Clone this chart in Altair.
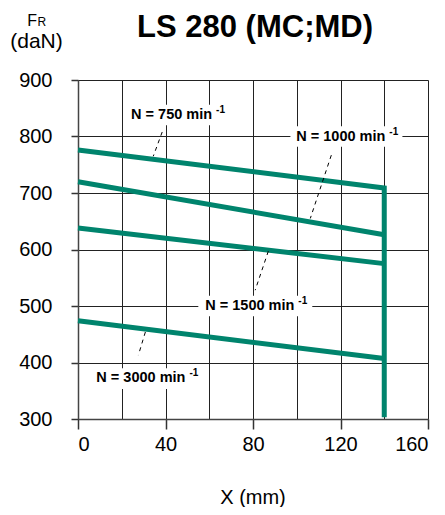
import altair as alt
import pandas as pd

# ---- data ----
x_pos = [0, 140]
fr_750 = [776, 709]
fr_1000 = [720, 626]
fr_1500 = [638, 575]
fr_3000 = [474, 407]
limit_x = [140]
limit_fr = [303]

label_text = ["N = 750 min", "N = 1000 min", "N = 1500 min", "N = 3000 min"]
label_x_end = [61.3, 140.5, 98.9, 49.1]
label_y = [838, 800, 500, 372.6]
box_x1 = [23.9, 97.1, 55.0, 7.0]
box_x2 = [70.5, 148.3, 107.1, 55.9]
box_y1 = [856, 818, 518, 390]
box_y2 = [820, 782, 482, 353]
leader_x1 = [38.5, 115.8, 87.0, 30.8]
leader_y1 = [808, 767, 597, 454]
leader_x2 = [34.4, 106.2, 81.0, 27.6]
leader_y2 = [765, 655, 528, 413]

x_grid = list(range(0, 161, 20))
y_grid = list(range(300, 901, 50))

TEAL = "#00846D"
FONT = "Liberation Sans"

rows = []
series = [("750", x_pos + limit_x, fr_750 + limit_fr),
          ("1000", x_pos, fr_1000),
          ("1500", x_pos, fr_1500),
          ("3000", x_pos, fr_3000)]
for name, xs, ys in series:
    for i, (xv, yv) in enumerate(zip(xs, ys)):
        rows.append({"x": xv, "y": yv, "s": name, "o": i})
lines_df = pd.DataFrame(rows)

lab_df = pd.DataFrame({
    "text": label_text, "xe": label_x_end, "yc": label_y,
    "bx1": box_x1, "bx2": box_x2, "by1": box_y1, "by2": box_y2,
    "lx1": leader_x1, "ly1": leader_y1, "lx2": leader_x2, "ly2": leader_y2,
})

xscale = alt.Scale(domain=[0, 160], nice=False, zero=False)
yscale = alt.Scale(domain=[300, 900], nice=False, zero=False)

x_axis = alt.Axis(
    values=x_grid, grid=True, gridColor="#222", gridWidth=1,
    domainColor="#444", domainWidth=1.5,
    tickSize=10, tickWidth=1.5,
    tickColor={"condition": {"test": "datum.value % 40 === 0", "value": "#333"}, "value": "rgba(0,0,0,0)"},
    labelExpr="datum.value % 40 === 0 ? datum.label : ''",
    labelOverlap=False, labelFont=FONT, labelFontSize=20, labelColor="black",
    labelPadding=5, title="",
)
y_axis = alt.Axis(
    values=y_grid, grid=True, gridColor="#222", gridWidth=1,
    domainColor="#444", domainWidth=1.5,
    tickSize=7, tickWidth=1.5,
    tickColor={"condition": {"test": "datum.value % 100 === 0", "value": "#333"}, "value": "rgba(0,0,0,0)"},
    labelExpr="datum.value % 100 === 0 ? datum.label : ''",
    labelOverlap=False, labelFont=FONT, labelFontSize=20, labelColor="black",
    labelPadding=19, title="",
)

lines = alt.Chart(lines_df).mark_line(color=TEAL, strokeWidth=5, strokeJoin="miter", strokeCap="butt").encode(
    x=alt.X("x:Q", scale=xscale, axis=x_axis),
    y=alt.Y("y:Q", scale=yscale, axis=y_axis),
    detail="s:N",
    order="o:Q",
)

leaders = alt.Chart(lab_df).mark_rule(color="black", strokeWidth=1, strokeDash=[4, 4]).encode(
    x=alt.X("lx1:Q", scale=xscale), y=alt.Y("ly1:Q", scale=yscale),
    x2="lx2:Q", y2="ly2:Q",
)

boxes = alt.Chart(lab_df).mark_rect(fill="white").encode(
    x=alt.X("bx1:Q", scale=xscale), x2="bx2:Q",
    y=alt.Y("by1:Q", scale=yscale), y2="by2:Q",
)

texts = alt.Chart(lab_df).mark_text(align="right", baseline="middle", font=FONT,
                                    fontSize=14.5, fontWeight="bold", color="black").encode(
    x=alt.X("xe:Q", scale=xscale), y=alt.Y("yc:Q", scale=yscale), text="text:N",
)
sups = alt.Chart(lab_df).mark_text(align="left", baseline="middle", font=FONT,
                                   fontSize=10, fontWeight="bold", color="black", dx=4, dy=-5).encode(
    x=alt.X("xe:Q", scale=xscale), y=alt.Y("yc:Q", scale=yscale), text=alt.value("-1"),
)

one = pd.DataFrame({"k": [0]})
title_text = alt.Chart(one).mark_text(align="center", baseline="alphabetic", font=FONT, fontSize=31,
                                      fontWeight="bold", color="black").encode(
    x=alt.value(177), y=alt.value(-43), text=alt.value("LS 280 (MC;MD)"))
f_text = alt.Chart(one).mark_text(align="right", baseline="alphabetic", font=FONT, fontSize=16, color="black").encode(
    x=alt.value(-41), y=alt.value(-54), text=alt.value("F"))
r_text = alt.Chart(one).mark_text(align="left", baseline="alphabetic", font=FONT, fontSize=12, color="black").encode(
    x=alt.value(-40.5), y=alt.value(-54), text=alt.value("R"))
dan_text = alt.Chart(one).mark_text(align="center", baseline="alphabetic", font=FONT, fontSize=21, color="black").encode(
    x=alt.value(-41.5), y=alt.value(-32), text=alt.value("(daN)"))
xt_text = alt.Chart(one).mark_text(align="center", baseline="alphabetic", font=FONT, fontSize=20, color="black").encode(
    x=alt.value(175), y=alt.value(424), text=alt.value("X (mm)"))

chart = alt.layer(lines, leaders, boxes, texts, sups, title_text, f_text, r_text, dan_text, xt_text).properties(
    width=350, height=339,
    autosize=alt.AutoSizeParams(type="none"),
    padding={"left": 70, "top": 72, "right": 9, "bottom": 88},
).configure_view(stroke=None).configure(background="white")

chart.save("out.html", embed_options={"renderer": "svg", "actions": False})
